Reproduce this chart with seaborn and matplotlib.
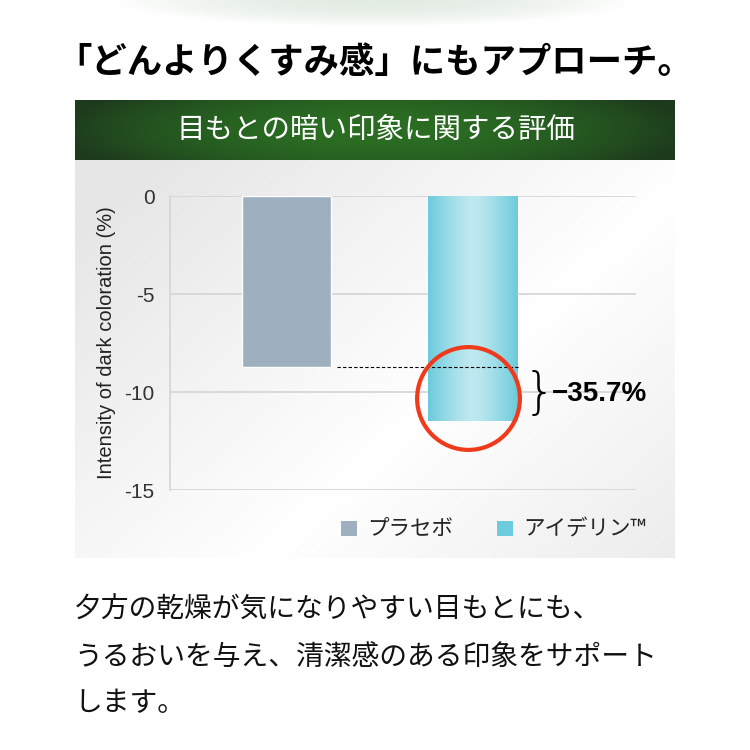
import numpy as np
import pandas as pd
import matplotlib
matplotlib.use("Agg")
import matplotlib.pyplot as plt
from matplotlib.patches import Patch
from matplotlib.colors import LinearSegmentedColormap
import seaborn as sns

# chart data
groups = ["プラセボ", "アイデリン™"]
values = [-8.7, -11.5]
bar_colors = ["#9eb0bf", "#6ccbdc"]
y_ticks = [0, -5, -10, -15]
diff_label = "\u221235.7%"

title = "「どんよりくすみ感」にもアプローチ。"
header = "目もとの暗い印象に関する評価"
y_label = "Intensity of dark coloration (%)"
body = ["夕方の乾燥が気になりやすい目もとにも、",
        "うるおいを与え、清潔感のある印象をサポート",
        "します。"]

sns.set_theme(style="white")
plt.rcParams["font.family"] = ["Noto Sans CJK JP", "DejaVu Sans"]

fig = plt.figure(figsize=(7.5, 7.5), dpi=100)
fig.patch.set_facecolor("white")

# background layer in pixel coordinates
bg = fig.add_axes([0, 0, 1, 1], zorder=-5)
bg.set_xlim(0, 750)
bg.set_ylim(750, 0)
bg.axis("off")

# faint green glow at top
gx = np.linspace(-1, 1, 200)
gy = np.linspace(0, 1, 40)
GX, GY = np.meshgrid(gx, gy)
glow = np.clip(1 - (GX / 0.7) ** 2 - (GY / 0.9) ** 2, 0, 1)
glow_cmap = LinearSegmentedColormap.from_list("glow", ["#ffffff", "#e3ece3"])
bg.imshow(glow, extent=(0, 750, 30, 0), cmap=glow_cmap, aspect="auto")

# grey panel
px = np.linspace(0, 1, 300)
py = np.linspace(0, 1, 200)
PX, PY = np.meshgrid(px, py)
shade = np.abs((PX * 0.8 + PY * 0.6) - 0.85)
panel_cmap = LinearSegmentedColormap.from_list("panel", ["#ffffff", "#e6e6e6"])
bg.imshow(shade, extent=(75, 675, 558, 160), cmap=panel_cmap, aspect="auto",
          vmin=0, vmax=0.75)

# green header band
hx = np.linspace(-1, 1, 300)
hy = np.linspace(-1, 1, 40)
HX, HY = np.meshgrid(hx, hy)
band = 1 - np.clip(HX ** 2 * 0.9 + HY ** 2 * 0.25, 0, 1)
green_cmap = LinearSegmentedColormap.from_list("green", ["#1d3a1d", "#2b6e23"])
bg.imshow(band, extent=(75, 675, 160, 100), cmap=green_cmap, aspect="auto")

bg.text(376, 130, header, color="white", fontsize=20.5, ha="center", va="center")
bg.text(375, 63, title, color="black", fontsize=25.5, fontweight="bold",
        ha="center", va="center")
for i, line in enumerate(body):
    bg.text(74, 610 + i * 46.5, line, color="#111111", fontsize=20,
            ha="left", va="center")

# main chart
ax = fig.add_axes([170 / 750, 1 - 490 / 750, 466 / 750, 294 / 750])
ax.set_facecolor("none")
df = pd.DataFrame({"group": groups, "value": values})
sns.barplot(data=df, x="group", y="value", hue="group", palette=bar_colors,
            width=0.48, legend=False, ax=ax, zorder=3, saturation=1)

# light stripe on the active bar
bar = ax.patches[1]
bx, by = bar.get_x(), bar.get_y()
bw, bh = bar.get_width(), bar.get_height()
stripe = np.abs(np.linspace(-1, 1, 100))[None, :] ** 1.3
cyan_cmap = LinearSegmentedColormap.from_list("cyan", ["#bfe9f0", "#6ccbdc"])
img = ax.imshow(stripe, extent=(bx, bx + bw, by, by + bh), cmap=cyan_cmap,
                aspect="auto", zorder=4)
img.set_clip_path(bar)

ax.set_xlim(-0.626, 1.879)
ax.set_ylim(-15, 0)
ax.set_yticks(y_ticks)
ax.set_yticklabels([str(t) for t in y_ticks], family="Liberation Sans",
                   fontsize=15, color="#333333")
ax.set_xticks([])
ax.set_xlabel("")
ax.set_ylabel(y_label, family="Liberation Sans", fontsize=14.5,
              color="#222222", labelpad=6)
ax.yaxis.grid(True, color="#d4d4d4", linewidth=1.2, zorder=0)
ax.tick_params(axis="y", length=9, width=1.2, color="#d4d4d4", pad=2)
for side in ["top", "right", "bottom"]:
    ax.spines[side].set_visible(False)
ax.spines["left"].set_color("#d4d4d4")
ax.spines["left"].set_linewidth(1.2)

# comparison marks
ax.hlines(values[0], 0.27, 1.255, colors="black", linestyles=(0, (3, 2)),
          linewidth=0.8, zorder=5)
ax.plot([0.976], [-10.3], marker="o", markersize=74, markerfacecolor="none",
        markeredgecolor="#f03a1c", markeredgewidth=3, zorder=6, clip_on=False)
mid = (values[0] + values[1]) / 2
ax.text(1.36, mid, "}", fontsize=36, family="DejaVu Sans", fontweight="light",
        ha="center", va="center", color="black", zorder=6)
ax.text(1.425, mid, diff_label, fontsize=20, family="Liberation Sans",
        fontweight="bold", ha="left", va="center", color="black", zorder=6)

handles = [Patch(facecolor=c, edgecolor="none") for c in bar_colors]
fig.legend(handles, groups, loc="center", bbox_to_anchor=(0.658, 1 - 530 / 750),
           ncol=2, frameon=False, fontsize=15.5, handlelength=0.75,
           handleheight=0.75, handletextpad=0.5, columnspacing=2.0)

fig.savefig("out.png", dpi=100)
